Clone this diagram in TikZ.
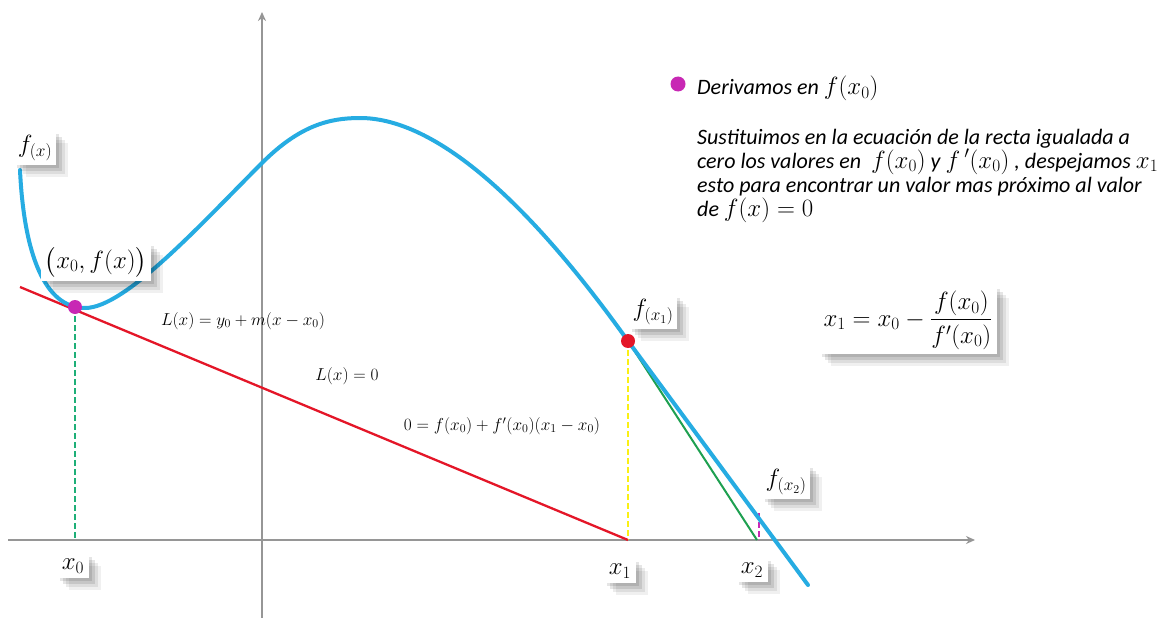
\documentclass[tikz,border=0pt]{standalone}
\usepackage{amsmath}
\usepackage{fontspec}
\newfontfamily\carl{Carlito}
\usetikzlibrary{shadows,arrows.meta}
\definecolor{cblue}{RGB}{38,172,226}
\definecolor{cred}{RGB}{228,22,40}
\definecolor{cgreen}{RGB}{30,160,80}
\definecolor{cteal}{RGB}{30,175,120}
\definecolor{cyell}{RGB}{250,240,20}
\definecolor{cmag}{RGB}{200,40,180}
\definecolor{caxis}{RGB}{150,150,150}
\newcommand\tmath[1]{{\fontsize{24}{24}\selectfont$#1$}}
\begin{document}
\begin{tikzpicture}[x=1pt,y=-1pt,
  lbl/.style={fill=white, inner sep=5pt,
    drop shadow={shadow xshift=12pt,shadow yshift=-12pt,opacity=0.06,fill=black},
    drop shadow={shadow xshift=9pt,shadow yshift=-9pt,opacity=0.08,fill=black},
    drop shadow={shadow xshift=6pt,shadow yshift=-6pt,opacity=0.10,fill=black},
    drop shadow={shadow xshift=3pt,shadow yshift=-3pt,opacity=0.10,fill=black}},
  eq/.style={inner sep=1pt, font=\fontsize{17.28}{22}\selectfont},
  para/.style={anchor=base west, inner sep=0pt, text height=16pt, text depth=5pt,
    font=\carl\itshape\fontsize{22}{24}\selectfont},
  axis/.style={caxis, line width=2.6pt, -{Stealth[length=9pt,width=8pt]}},
  dot/.style={circle, inner sep=0pt, minimum size=14pt}]
\useasboundingbox (0,0) rectangle (1175,618);
\fill[white] (0,0) rectangle (1175,618);

% axes
\coordinate (xa) at (8,540);
\coordinate (xb) at (975,540);
\coordinate (ya) at (262,618);
\coordinate (yb) at (262,12);
\draw[axis] (xa) -- (xb);
\draw[axis] (ya) -- (yb);

% key points
\coordinate (P0) at (75,307);
\coordinate (P1) at (628,341);
\coordinate (X0) at (75,540);
\coordinate (X1) at (628,540);
\coordinate (X2) at (757,540);
\coordinate (Q2) at (759,513);
\coordinate (X2m) at (759,540);
\coordinate (Ls) at (20,287);
\coordinate (Fs) at (20,170);
\coordinate (Fe) at (808,585);

% vertical dashed lines
\draw[cteal, line width=1.8pt, dash pattern=on 6pt off 3pt] (P0) -- (X0);
\draw[cyell, line width=1.8pt, dash pattern=on 6pt off 3pt] (P1) -- (X1);
\draw[cmag, line width=1.8pt, dash pattern=on 6pt off 3pt] (Q2) -- (X2m);

% tangent lines
\draw[cred, line width=2.3pt] (Ls) -- (X1);
\draw[cgreen, line width=2pt] (P1) -- (X2);

% curve
\draw[cblue, line width=4pt, line cap=round]
  (Fs) .. controls (24,255) and (45,308) .. (85,308)
  .. controls (125,308) and (200,225) .. (262,163)
  .. controls (300,125) and (330,118) .. (360,118)
  .. controls (430,118) and (520,190) .. (P1)
  -- (Fe);

% dots
\node[dot, fill=cmag] (d0) at (P0) {};
\node[dot, fill=cred] (d1) at (P1) {};

% labels
\node[lbl, font=\fontsize{24}{26}\selectfont, inner sep=4pt] (fx) at (35,148) {$f_{(x)}$};
\node[lbl, font=\fontsize{23}{26}\selectfont, inner sep=4pt] (p0) at (96,262) {$\bigl(x_0,f(x)\bigr)$};
\node[lbl, font=\fontsize{24}{26}\selectfont, inner sep=4pt] (fx1) at (653,312) {$f_{(x_1)}$};
\node[lbl, font=\fontsize{24}{26}\selectfont, inner sep=4pt] (fx2) at (786,482) {$f_{(x_2)}$};
\node[lbl, font=\fontsize{23}{26}\selectfont] (lx0) at (73,566) {$x_0$};
\node[lbl, font=\fontsize{23}{26}\selectfont] (lx1) at (620,571) {$x_1$};
\node[lbl, font=\fontsize{23}{26}\selectfont] (lx2) at (752,570) {$x_2$};
\node[lbl, font=\fontsize{23}{26}\selectfont, inner sep=5pt] (nf) at (908,320) {$x_1 = x_0 - \dfrac{f(x_0)}{f'(x_0)}$};

\node[eq] (e1) at (243,321) {$L(x) = y_0 + m(x - x_0)$};
\node[eq] (e2) at (347,376) {$L(x) = 0$};
\node[eq] (e3) at (502,426) {$0 = f(x_0) + f'(x_0)(x_1 - x_0)$};

% text block
\node[circle, fill=cmag, minimum width=13pt, minimum height=15pt, inner sep=0pt] (bul) at (678,84) {};
\node[para] (t1) at (697,95) {Derivamos en \tmath{f(x_0)}};
\node[para] (l1) at (697,144) {Sustituimos en la ecuación de la recta igualada a};
\node[para] (l2) at (697,168) {cero los valores en \ \tmath{f(x_0)} y \tmath{f\,{}'(x_0)} , despejamos \tmath{x_1}};
\node[para] (l3) at (697,192) {esto para encontrar un valor mas próximo al valor};
\node[para] (l4) at (697,216) {de \tmath{f(x) = 0}};
\end{tikzpicture}
\end{document}
